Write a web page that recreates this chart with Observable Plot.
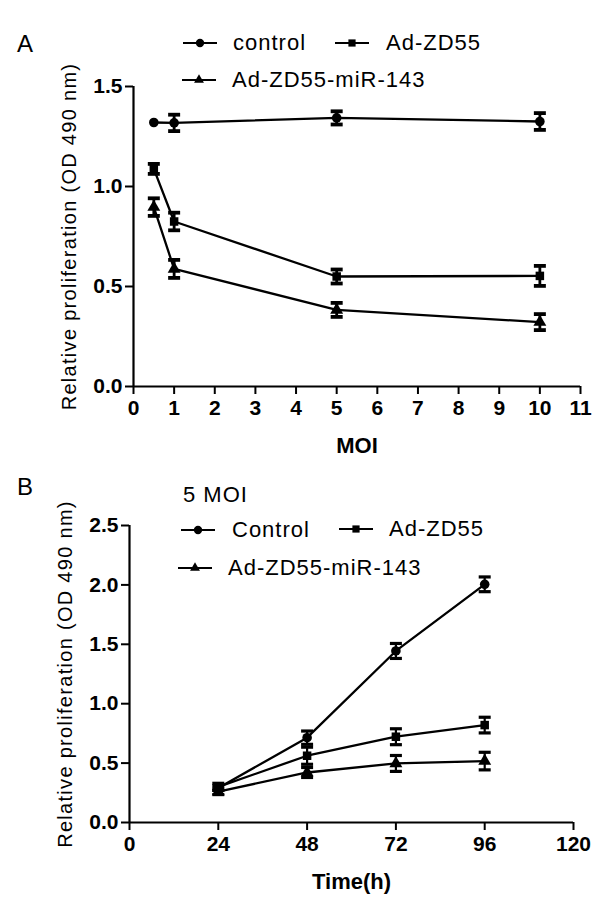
<!DOCTYPE html>
<html>
<head>
<meta charset="utf-8">
<script src="https://cdn.jsdelivr.net/npm/d3@7"></script>
<script src="https://cdn.jsdelivr.net/npm/@observablehq/plot@0.6"></script>
<style>
html, body { margin: 0; padding: 0; background: #fff; }
#fig { position: relative; width: 600px; height: 901px; overflow: hidden; background: #fff;
  font-family: "Liberation Sans", Arial, sans-serif; color: #000; }
.panel { position: absolute; left: 0; }
.txt { position: absolute; white-space: nowrap; line-height: 22px; font-size: 22px; letter-spacing: 1px; }
.letter { position: absolute; font-size: 24px; line-height: 24px; }
.sw { position: absolute; overflow: visible; }
#fig svg g[aria-label="y-axis label"] { font-weight: normal; font-size: 20px; letter-spacing: 1.3px; }
#fig svg g[aria-label="x-axis label"] { font-weight: bold; font-size: 22px; }
</style>
</head>
<body>
<div id="fig"></div>
<script>
// ---------- Data ----------
const seriesA = ["control", "Ad-ZD55", "Ad-ZD55-miR-143"];
const moi = [0.5, 1, 5, 10];
const controlA = [1.32, 1.318, 1.343, 1.325];
const controlAErr = [0, 0.041, 0.033, 0.042];
const adA = [1.088, 0.825, 0.55, 0.553];
const adAErr = [0.025, 0.044, 0.035, 0.05];
const mirA = [0.897, 0.588, 0.383, 0.322];
const mirAErr = [0.044, 0.045, 0.035, 0.04];
const moiTicks = [0, 1, 2, 3, 4, 5, 6, 7, 8, 9, 10, 11];
const yTicksA = [0, 0.5, 1.0, 1.5];

const seriesB = ["Control", "Ad-ZD55", "Ad-ZD55-miR-143"];
const hours = [24, 48, 72, 96];
const controlB = [0.29, 0.714, 1.444, 2.005];
const controlBErr = [0.02, 0.056, 0.063, 0.062];
const adB = [0.30, 0.562, 0.722, 0.82];
const adBErr = [0.03, 0.072, 0.067, 0.066];
const mirB = [0.26, 0.421, 0.497, 0.517];
const mirBErr = [0.025, 0.042, 0.067, 0.074];
const hourTicks = [0, 24, 48, 72, 96, 120];
const yTicksB = [0, 0.5, 1.0, 1.5, 2.0, 2.5];

const yTitle = "Relative proliferation (OD 490 nm)";
const symbols = ["circle", "square", "triangle"];

// ---------- Build rows ----------
function rows(series, xs, vals, errs) {
  const out = [];
  series.forEach((s, i) => xs.forEach((x, j) => out.push({series: s, x, y: vals[i][j], err: errs[i][j]})));
  return out;
}
const rowsA = rows(seriesA, moi, [controlA, adA, mirA], [controlAErr, adAErr, mirAErr]);
const rowsB = rows(seriesB, hours, [controlB, adB, mirB], [controlBErr, adBErr, mirBErr]);

const cap = {draw(ctx) { ctx.moveTo(-6, 0); ctx.lineTo(6, 0); }};
const font = "'Liberation Sans', Arial, sans-serif";

function panel({data, series, xTicks, yTicks, xLabel, width, height, margins, barWidth, xFmt}) {
  const withErr = data.filter(d => d.err > 0);
  return Plot.plot({
    width, height,
    marginTop: margins[0], marginRight: margins[1], marginBottom: margins[2], marginLeft: margins[3],
    style: {fontFamily: font, background: "transparent", color: "#000", overflow: "visible"},
    x: {domain: [xTicks[0], xTicks[xTicks.length - 1]]},
    y: {domain: [yTicks[0], yTicks[yTicks.length - 1]]},
    symbol: {domain: series, range: symbols},
    marks: [
      Plot.axisY({ticks: yTicks, tickFormat: d3.format(".1f"), tickSize: 8, tickPadding: 3, strokeWidth: 2,
        fontSize: 21, fontWeight: "bold", label: yTitle, labelAnchor: "center", labelOffset: 72, labelArrow: "none"}),
      Plot.axisX({ticks: xTicks, tickFormat: xFmt, tickSize: 8, tickPadding: 6, strokeWidth: 2,
        fontSize: 21, fontWeight: "bold", label: xLabel, labelAnchor: "center", labelOffset: 66, labelArrow: "none"}),
      Plot.ruleX([xTicks[0]], {y1: yTicks[0], y2: yTicks[yTicks.length - 1], stroke: "#000", strokeWidth: 2.2}),
      Plot.ruleY([yTicks[0]], {x1: xTicks[0], x2: xTicks[xTicks.length - 1], stroke: "#000", strokeWidth: 2.2}),
      Plot.line(data, {x: "x", y: "y", z: "series", stroke: "#000", strokeWidth: 2.3}),
      Plot.ruleX(withErr, {x: "x", y1: d => d.y - d.err, y2: d => d.y + d.err, stroke: "#000", strokeWidth: barWidth}),
      Plot.dot(withErr, {x: "x", y: d => d.y - d.err, symbol: cap, stroke: "#000", fill: "none", strokeWidth: barWidth + 1}),
      Plot.dot(withErr, {x: "x", y: d => d.y + d.err, symbol: cap, stroke: "#000", fill: "none", strokeWidth: barWidth + 1}),
      Plot.dot(data, {x: "x", y: "y", symbol: "series", fill: "#000", stroke: "none", r: 4.8})
    ]
  });
}

const fig = document.getElementById("fig");

const svgA = panel({data: rowsA, series: seriesA, xTicks: moiTicks, yTicks: yTicksA, xLabel: "MOI",
  width: 600, height: 455, margins: [86, 20, 69, 133], barWidth: 2.8, xFmt: d3.format("d")});
svgA.classList.add("panel"); svgA.style.top = "0px";
fig.appendChild(svgA);

const svgB = panel({data: rowsB, series: seriesB, xTicks: hourTicks, yTicks: yTicksB, xLabel: "Time(h)",
  width: 600, height: 446, margins: [70, 27, 79, 129], barWidth: 2.2, xFmt: d3.format("d")});
svgB.classList.add("panel"); svgB.style.top = "455px";
fig.appendChild(svgB);

// ---------- Legends & panel letters (HTML) ----------
const symFns = [d3.symbolCircle, d3.symbolSquare, d3.symbolTriangle];
function legendItem(name, idx, lineX, lineY, textX) {
  const w = 34;
  const sw = d3.select(fig).append("svg").attr("class", "sw")
    .attr("width", w).attr("height", 16)
    .style("left", lineX + "px").style("top", (lineY - 8) + "px");
  sw.append("line").attr("x1", 0).attr("x2", w).attr("y1", 8).attr("y2", 8)
    .attr("stroke", "#000").attr("stroke-width", 2.2);
  sw.append("path").attr("transform", `translate(${w / 2},8)`)
    .attr("d", d3.symbol(symFns[idx], idx === 1 ? 52 : idx === 2 ? 42 : 55)()).attr("fill", "#000");
  d3.select(fig).append("div").attr("class", "txt")
    .style("left", textX + "px").style("top", (lineY - 10.6) + "px").text(name);
}
function letter(t, x, baseline) {
  d3.select(fig).append("div").attr("class", "letter")
    .style("left", x + "px").style("top", (baseline - 20.3) + "px").text(t);
}
letter("A", 17, 52);
legendItem(seriesA[0], 0, 183, 43, 233);
legendItem(seriesA[1], 1, 335, 43, 386);
legendItem(seriesA[2], 2, 182, 80, 232);

letter("B", 17, 495);
d3.select(fig).append("div").attr("class", "txt").style("left", "183px").style("top", (503 - 18.6) + "px").text("5 MOI");
legendItem(seriesB[0], 0, 181, 530, 232);
legendItem(seriesB[1], 1, 339, 529, 389);
legendItem(seriesB[2], 2, 178, 568, 228);
</script>
</body>
</html>
